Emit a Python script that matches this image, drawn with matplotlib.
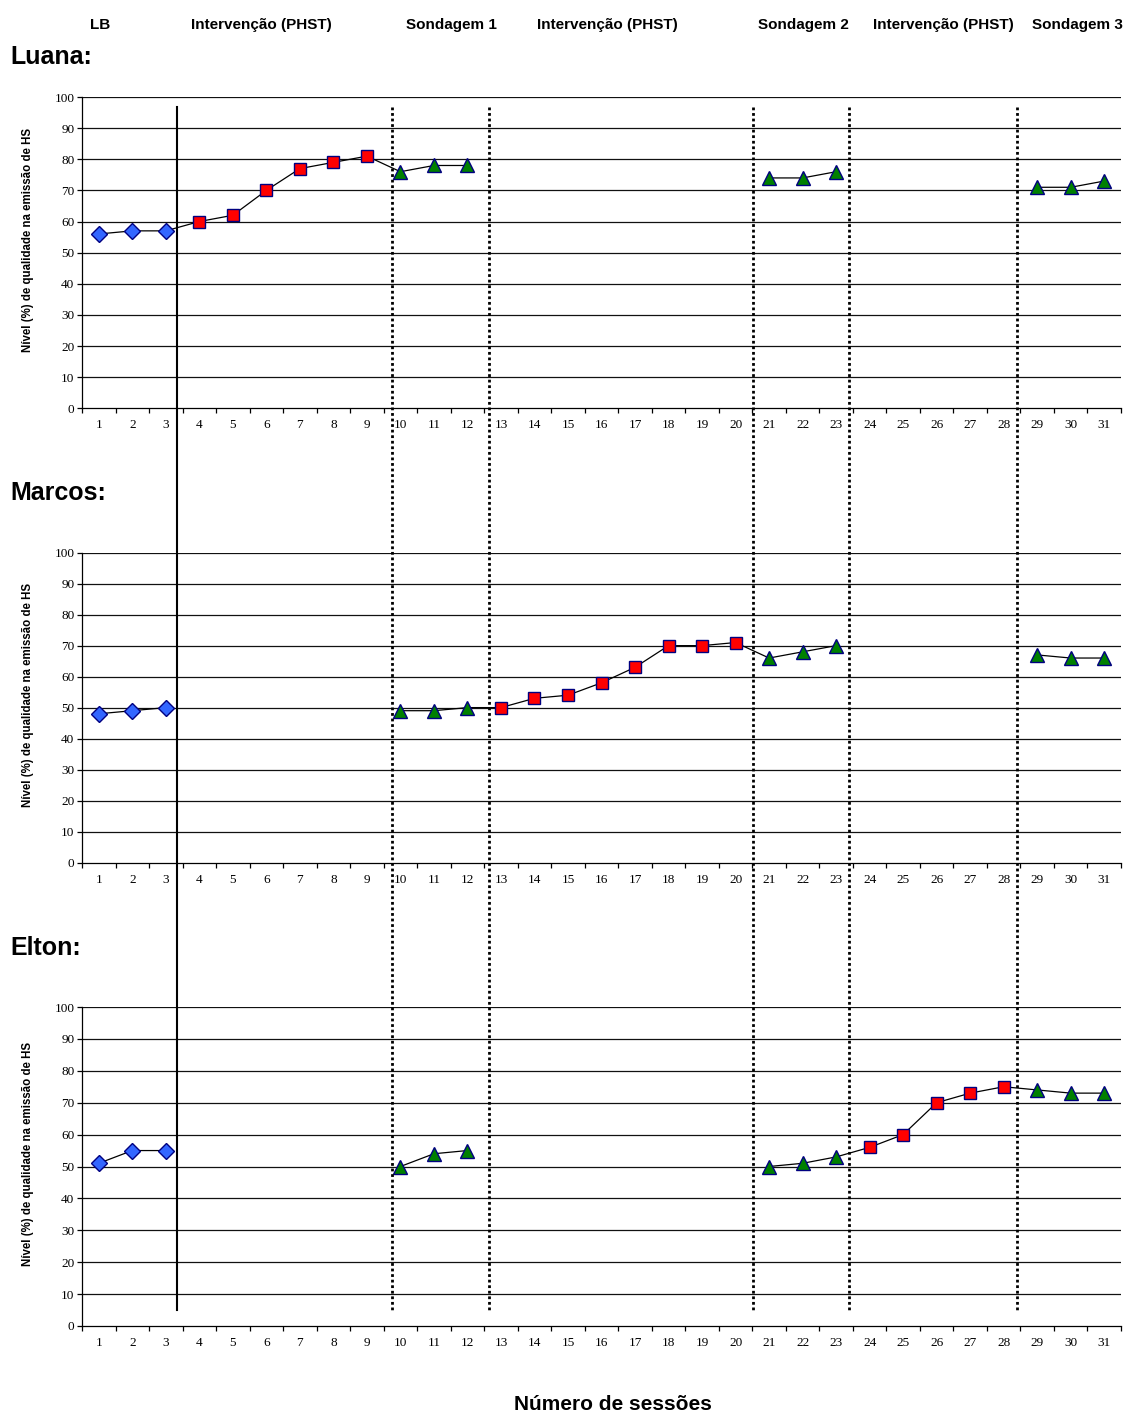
import matplotlib
matplotlib.use('Agg')
import matplotlib.pyplot as plt
import numpy as np
from matplotlib.lines import Line2D
from matplotlib.transforms import blended_transform_factory

plt.rcParams['font.family'] = ['Liberation Sans', 'DejaVu Sans']

# ---------------- data ----------------
sessions = list(range(1, 32))
phases = ['LB'] * 3 + ['I'] * 6 + ['S'] * 3 + ['I'] * 8 + ['S'] * 3 + ['I'] * 5 + ['S'] * 3
N = None
luana = [56, 57, 57, 60, 62, 70, 77, 79, 81, 76, 78, 78,
         N, N, N, N, N, N, N, N, 74, 74, 76, N, N, N, N, N, 71, 71, 73]
marcos = [48, 49, 50, N, N, N, N, N, N, 49, 49, 50,
          50, 53, 54, 58, 63, 70, 70, 71, 66, 68, 70, N, N, N, N, N, 67, 66, 66]
elton = [51, 55, 55, N, N, N, N, N, N, 50, 54, 55,
         N, N, N, N, N, N, N, N, 50, 51, 53, 56, 60, 70, 73, 75, 74, 73, 73]
participants = ['Luana:', 'Marcos:', 'Elton:']
y_ticks = list(range(0, 101, 10))
header_labels = ['LB', 'Intervenção (PHST)', 'Sondagem 1', 'Intervenção (PHST)',
                 'Sondagem 2', 'Intervenção (PHST)', 'Sondagem 3']
ylabel_text = 'Nível (%) de qualidade na emissão de HS'
xlabel_text = 'Número de sessões'

# ---------------- layout ----------------
W, H = 1129, 1416
fig = plt.figure(figsize=(W / 100, H / 100), dpi=100)


def fx(px):
    return px / W


def fy(py):
    return 1 - py / H


ax_px = [(97, 408.3), (552.7, 862.5), (1007, 1326)]
left_px, right_px = 82, 1121
title_y = [57, 493, 948]

marker_style = {
    'LB': dict(marker='D', markerfacecolor='#3366FF', markersize=8.5),
    'I': dict(marker='s', markerfacecolor='#FF0000', markersize=9),
    'S': dict(marker='^', markerfacecolor='#008000', markersize=10.5),
}

axes = []
for k, (vals, name) in enumerate(zip([luana, marcos, elton], participants)):
    top, bot = ax_px[k]
    ax = fig.add_axes([fx(left_px), fy(bot), (right_px - left_px) / W, (bot - top) / H])
    axes.append(ax)
    y = np.array([np.nan if v is None else v for v in vals], dtype=float)
    x = np.array(sessions)
    ax.plot(x, y, color='black', lw=0.9, zorder=3)
    for ph, st in marker_style.items():
        m = np.array([p == ph for p in phases]) & ~np.isnan(y)
        ax.plot(x[m], y[m], linestyle='none', markeredgecolor='#000080',
                markeredgewidth=1.0, zorder=4, **st)
    ax.set_xlim(0.5, 31.5)
    ax.set_ylim(0, 100)
    ax.set_yticks(y_ticks)
    ax.set_yticklabels([str(t) for t in y_ticks], family='Liberation Serif', fontsize=9.5)
    ax.set_xticks(sessions)
    ax.set_xticklabels([str(s) for s in sessions], family='Liberation Serif', fontsize=9.5)
    ax.set_xticks(np.arange(0.5, 32, 1), minor=True)
    ax.tick_params(axis='x', which='major', length=0, pad=8)
    ax.tick_params(axis='x', which='minor', length=3.5, direction='out', width=0.9)
    ax.tick_params(axis='y', length=3.5, direction='out', pad=2, width=0.9)
    for t in y_ticks[1:]:
        ax.axhline(t, color='#111111', lw=0.9, zorder=1)
    for s in ['top', 'right']:
        ax.spines[s].set_visible(False)
    for s in ['left', 'bottom']:
        ax.spines[s].set_linewidth(0.9)
    ax.set_ylabel(ylabel_text, fontsize=8.3, fontweight='bold')
    ax.yaxis.set_label_coords((34 - left_px) / (right_px - left_px), 0.54)
    fig.text(fx(10), fy(title_y[k]), name, fontsize=18, fontweight='bold',
             ha='left', va='center')

# phase-change lines spanning all panels
trans = blended_transform_factory(axes[0].transData, fig.transFigure)
phase_lines = [(3.33, '-'), (9.75, ':'), (12.64, ':'), (20.52, ':'), (23.38, ':'), (28.40, ':')]
for xv, ls in phase_lines:
    if ls == '-':
        ln = Line2D([xv, xv], [fy(107), fy(1310)], transform=trans, color='black', lw=1.5)
    else:
        ln = Line2D([xv, xv], [fy(107), fy(1310)], transform=trans, color='black', lw=2,
                    linestyle=(0, (1, 1)))
    fig.add_artist(ln)

# header labels
header_x = [100, 261, 451, 607, 803, 943, 1077]
for hx, lab in zip(header_x, header_labels):
    fig.text(fx(hx), fy(25), lab, fontsize=11, fontweight='bold', ha='center', va='center')

fig.text(fx(613), fy(1405), xlabel_text, fontsize=15, fontweight='bold', ha='center', va='center')

fig.savefig('out.png', dpi=100)
